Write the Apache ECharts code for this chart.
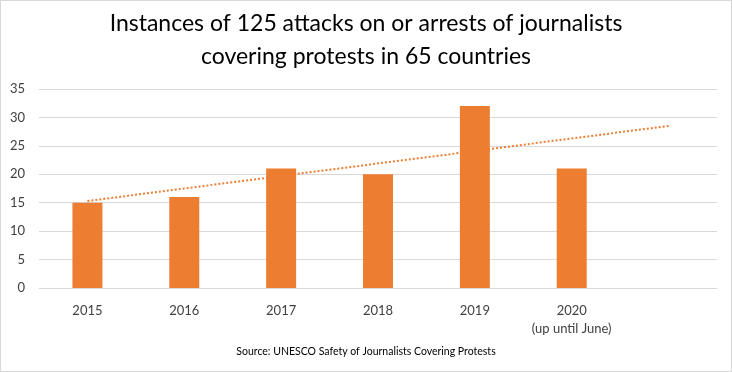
<!DOCTYPE html>
<html><head><meta charset="utf-8">
<script src="https://cdn.jsdelivr.net/npm/echarts@6/dist/echarts.min.js"></script>
<style>html,body{margin:0;padding:0;background:#fff}#c{width:732px;height:372px;box-sizing:border-box;border:1px solid #d9d9d9}</style>
</head><body><div id="c"></div>
<script>
const categories = ['2015','2016','2017','2018','2019','2020\n(up until June)',''];
const values = [15,16,21,20,32,21,null];
const trendline = [15.3,'-','-','-','-','-',28.5];
const yTicks = {min:0,max:35,interval:5};
const titleText = 'Instances of 125 attacks on or arrests of journalists\ncovering protests in 65 countries';
const sourceText = 'Source: UNESCO Safety of Journalists Covering Protests';

const font = 'Lato, "Open Sans", sans-serif';
const chart = echarts.init(document.getElementById('c'));
chart.setOption({
  animation:false,
  title:[{text:titleText,left:'center',top:1,textStyle:{fontFamily:font,fontSize:23,fontWeight:'normal',color:'#000',lineHeight:33}},
         {text:sourceText,left:'center',top:340,textStyle:{fontFamily:font,fontSize:10.5,fontWeight:'normal',color:'#000'}}],
  grid:{left:38,right:14,top:88,bottom:83,containLabel:false},
  xAxis:{type:'category',data:categories,axisLine:{lineStyle:{color:'#d9d9d9'}},axisTick:{show:false},
    axisLabel:{interval:0,fontFamily:font,fontSize:13,color:'#404040',margin:14,lineHeight:18}},
  yAxis:{type:'value',min:yTicks.min,max:yTicks.max,interval:yTicks.interval,axisLine:{show:false},axisTick:{show:false},
    splitLine:{lineStyle:{color:'#d9d9d9'}},axisLabel:{fontFamily:font,fontSize:13,color:'#404040',margin:14}},
  series:[
    {type:'bar',data:values,barWidth:30,itemStyle:{color:'#ED7D31'}},
    {type:'line',data:trendline,connectNulls:true,symbol:'none',lineStyle:{color:'#ED7D31',width:2,type:[2,2]}}
  ]
});
</script></body></html>
